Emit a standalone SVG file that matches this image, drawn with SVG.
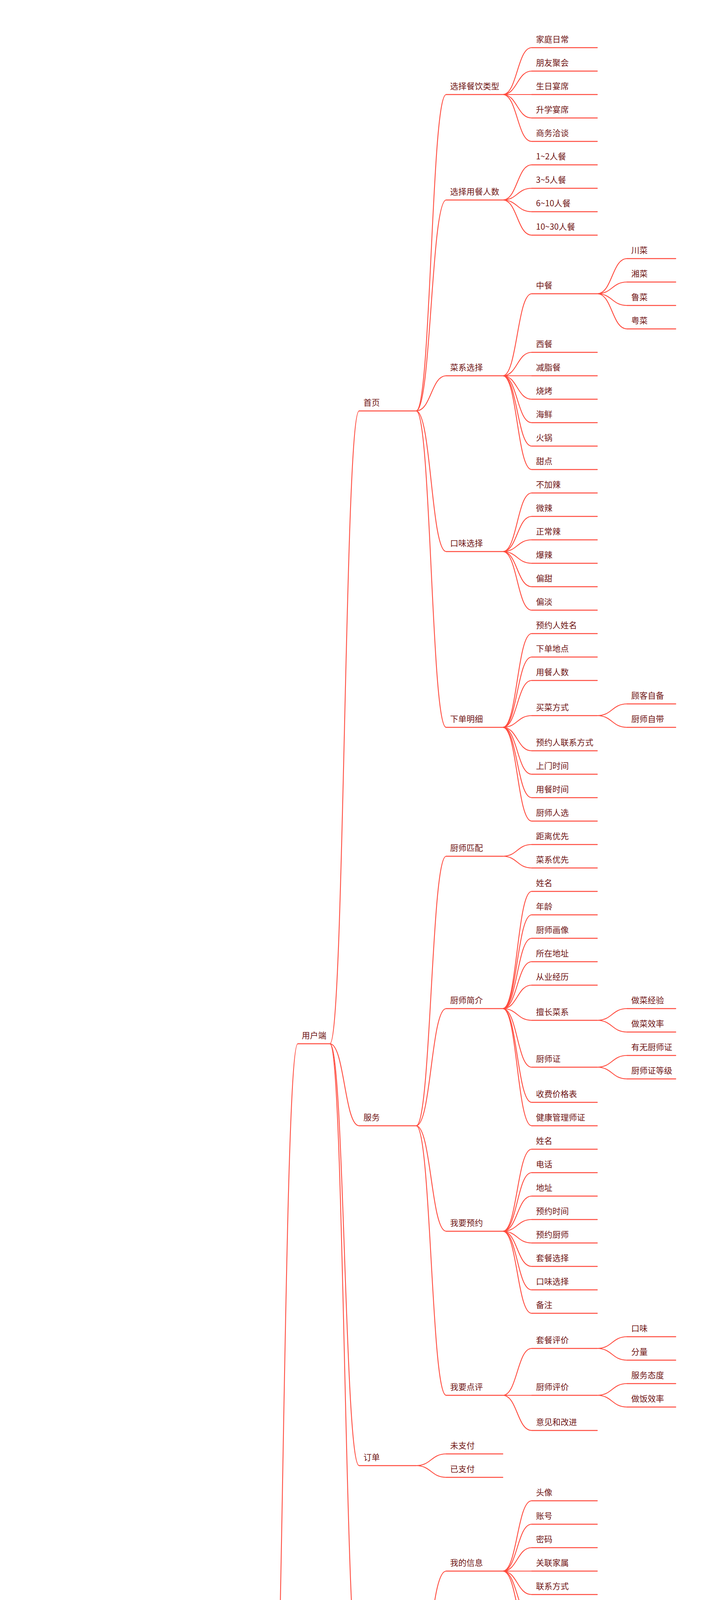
<svg xmlns="http://www.w3.org/2000/svg" width="1806" height="7521" viewBox="0 0 1806 7521">
<style>
.u{stroke:#ff4a3d;stroke-width:2.4;fill:none;stroke-linecap:round}
#links path{stroke:#ff4a3d;stroke-width:2.2;fill:none}
text{font-family:"Noto Sans CJK SC","Noto Sans",sans-serif;font-size:21px;fill:#6f1414}
text.root{font-size:41px;font-weight:bold;fill:#0d0b2b}
text.l1{font-size:27px;fill:#222222}
</style>
<rect width="1806" height="7521" fill="#ffffff"/>
<g id="links">
<path d="M372 4847H523"/>
<path d="M686 4847C724.5 4847 724.5 2672 763 2672"/>
<path d="M686 4847C724.5 4847 724.5 5672 763 5672"/>
<path d="M686 4847C724.5 4847 724.5 7022 763 7022"/>
<path d="M845 2672C882.5 2672 882.5 1052 920 1052"/>
<path d="M845 2672C882.5 2672 882.5 2882 920 2882"/>
<path d="M845 2672C882.5 2672 882.5 3752 920 3752"/>
<path d="M845 2672C882.5 2672 882.5 4292 920 4292"/>
<path d="M845 5672C882.5 5672 882.5 4922 920 4922"/>
<path d="M845 5672C882.5 5672 882.5 5342 920 5342"/>
<path d="M845 5672C882.5 5672 882.5 5567 920 5567"/>
<path d="M845 5672C882.5 5672 882.5 6047 920 6047"/>
<path d="M845 5672C882.5 5672 882.5 6422 920 6422"/>
<path d="M845 7022C882.5 7022 882.5 6632 920 6632"/>
<path d="M845 7022C882.5 7022 882.5 6872 920 6872"/>
<path d="M845 7022C882.5 7022 882.5 7082 920 7082"/>
<path d="M845 7022C882.5 7022 882.5 7262 920 7262"/>
<path d="M845 7022C882.5 7022 882.5 7412 920 7412"/>
<path d="M1066 1052C1104.5 1052 1104.5 242 1143 242"/>
<path d="M1066 1052C1104.5 1052 1104.5 512 1143 512"/>
<path d="M1066 1052C1104.5 1052 1104.5 962 1143 962"/>
<path d="M1066 1052C1104.5 1052 1104.5 1412 1143 1412"/>
<path d="M1066 1052C1104.5 1052 1104.5 1862 1143 1862"/>
<path d="M1066 2882C1104.5 2882 1104.5 2192 1143 2192"/>
<path d="M1066 2882C1104.5 2882 1104.5 2582 1143 2582"/>
<path d="M1066 2882C1104.5 2882 1104.5 3152 1143 3152"/>
<path d="M1066 2882C1104.5 2882 1104.5 3572 1143 3572"/>
<path d="M1066 3752C1104.5 3752 1104.5 3722 1143 3722"/>
<path d="M1066 3752C1104.5 3752 1104.5 3782 1143 3782"/>
<path d="M1066 4292C1104.5 4292 1104.5 4022 1143 4022"/>
<path d="M1066 4292C1104.5 4292 1104.5 4292 1143 4292"/>
<path d="M1066 4292C1104.5 4292 1104.5 4442 1143 4442"/>
<path d="M1066 4292C1104.5 4292 1104.5 4562 1143 4562"/>
<path d="M1066 4922C1104.5 4922 1104.5 4622 1143 4622"/>
<path d="M1066 4922C1104.5 4922 1104.5 4682 1143 4682"/>
<path d="M1066 4922C1104.5 4922 1104.5 4742 1143 4742"/>
<path d="M1066 4922C1104.5 4922 1104.5 4802 1143 4802"/>
<path d="M1066 4922C1104.5 4922 1104.5 4862 1143 4862"/>
<path d="M1066 4922C1104.5 4922 1104.5 4922 1143 4922"/>
<path d="M1066 4922C1104.5 4922 1104.5 4982 1143 4982"/>
<path d="M1066 4922C1104.5 4922 1104.5 5042 1143 5042"/>
<path d="M1066 4922C1104.5 4922 1104.5 5102 1143 5102"/>
<path d="M1066 4922C1104.5 4922 1104.5 5162 1143 5162"/>
<path d="M1066 4922C1104.5 4922 1104.5 5222 1143 5222"/>
<path d="M1066 5342C1104.5 5342 1104.5 5282 1143 5282"/>
<path d="M1066 5342C1104.5 5342 1104.5 5342 1143 5342"/>
<path d="M1066 5342C1104.5 5342 1104.5 5402 1143 5402"/>
<path d="M1066 5567C1104.5 5567 1104.5 5462 1143 5462"/>
<path d="M1066 5567C1104.5 5567 1104.5 5522 1143 5522"/>
<path d="M1066 5567C1104.5 5567 1104.5 5672 1143 5672"/>
<path d="M1066 6047C1104.5 6047 1104.5 5912 1143 5912"/>
<path d="M1066 6047C1104.5 6047 1104.5 6182 1143 6182"/>
<path d="M1066 6422C1104.5 6422 1104.5 6362 1143 6362"/>
<path d="M1066 6422C1104.5 6422 1104.5 6422 1143 6422"/>
<path d="M1066 6422C1104.5 6422 1104.5 6482 1143 6482"/>
<path d="M1066 6632C1104.5 6632 1104.5 6542 1143 6542"/>
<path d="M1066 6632C1104.5 6632 1104.5 6602 1143 6602"/>
<path d="M1066 6632C1104.5 6632 1104.5 6662 1143 6662"/>
<path d="M1066 6632C1104.5 6632 1104.5 6722 1143 6722"/>
<path d="M1066 6872C1104.5 6872 1104.5 6782 1143 6782"/>
<path d="M1066 6872C1104.5 6872 1104.5 6842 1143 6842"/>
<path d="M1066 6872C1104.5 6872 1104.5 6902 1143 6902"/>
<path d="M1066 6872C1104.5 6872 1104.5 6962 1143 6962"/>
<path d="M1066 7082C1104.5 7082 1104.5 7022 1143 7022"/>
<path d="M1066 7082C1104.5 7082 1104.5 7082 1143 7082"/>
<path d="M1066 7082C1104.5 7082 1104.5 7142 1143 7142"/>
<path d="M1066 7262C1104.5 7262 1104.5 7202 1143 7202"/>
<path d="M1066 7262C1104.5 7262 1104.5 7262 1143 7262"/>
<path d="M1066 7262C1104.5 7262 1104.5 7322 1143 7322"/>
<path d="M1066 7412C1104.5 7412 1104.5 7382 1143 7382"/>
<path d="M1066 7412C1104.5 7412 1104.5 7442 1143 7442"/>
<path d="M1288 242C1325 242 1325 122 1362 122"/>
<path d="M1288 242C1325 242 1325 182 1362 182"/>
<path d="M1288 242C1325 242 1325 242 1362 242"/>
<path d="M1288 242C1325 242 1325 302 1362 302"/>
<path d="M1288 242C1325 242 1325 362 1362 362"/>
<path d="M1288 512C1325 512 1325 422 1362 422"/>
<path d="M1288 512C1325 512 1325 482 1362 482"/>
<path d="M1288 512C1325 512 1325 542 1362 542"/>
<path d="M1288 512C1325 512 1325 602 1362 602"/>
<path d="M1288 962C1325 962 1325 752 1362 752"/>
<path d="M1288 962C1325 962 1325 902 1362 902"/>
<path d="M1288 962C1325 962 1325 962 1362 962"/>
<path d="M1288 962C1325 962 1325 1022 1362 1022"/>
<path d="M1288 962C1325 962 1325 1082 1362 1082"/>
<path d="M1288 962C1325 962 1325 1142 1362 1142"/>
<path d="M1288 962C1325 962 1325 1202 1362 1202"/>
<path d="M1288 1412C1325 1412 1325 1262 1362 1262"/>
<path d="M1288 1412C1325 1412 1325 1322 1362 1322"/>
<path d="M1288 1412C1325 1412 1325 1382 1362 1382"/>
<path d="M1288 1412C1325 1412 1325 1442 1362 1442"/>
<path d="M1288 1412C1325 1412 1325 1502 1362 1502"/>
<path d="M1288 1412C1325 1412 1325 1562 1362 1562"/>
<path d="M1288 1862C1325 1862 1325 1622 1362 1622"/>
<path d="M1288 1862C1325 1862 1325 1682 1362 1682"/>
<path d="M1288 1862C1325 1862 1325 1742 1362 1742"/>
<path d="M1288 1862C1325 1862 1325 1832 1362 1832"/>
<path d="M1288 1862C1325 1862 1325 1922 1362 1922"/>
<path d="M1288 1862C1325 1862 1325 1982 1362 1982"/>
<path d="M1288 1862C1325 1862 1325 2042 1362 2042"/>
<path d="M1288 1862C1325 1862 1325 2102 1362 2102"/>
<path d="M1288 2192C1325 2192 1325 2162 1362 2162"/>
<path d="M1288 2192C1325 2192 1325 2222 1362 2222"/>
<path d="M1288 2582C1325 2582 1325 2282 1362 2282"/>
<path d="M1288 2582C1325 2582 1325 2342 1362 2342"/>
<path d="M1288 2582C1325 2582 1325 2402 1362 2402"/>
<path d="M1288 2582C1325 2582 1325 2462 1362 2462"/>
<path d="M1288 2582C1325 2582 1325 2522 1362 2522"/>
<path d="M1288 2582C1325 2582 1325 2612 1362 2612"/>
<path d="M1288 2582C1325 2582 1325 2732 1362 2732"/>
<path d="M1288 2582C1325 2582 1325 2822 1362 2822"/>
<path d="M1288 2582C1325 2582 1325 2882 1362 2882"/>
<path d="M1288 3152C1325 3152 1325 2942 1362 2942"/>
<path d="M1288 3152C1325 3152 1325 3002 1362 3002"/>
<path d="M1288 3152C1325 3152 1325 3062 1362 3062"/>
<path d="M1288 3152C1325 3152 1325 3122 1362 3122"/>
<path d="M1288 3152C1325 3152 1325 3182 1362 3182"/>
<path d="M1288 3152C1325 3152 1325 3242 1362 3242"/>
<path d="M1288 3152C1325 3152 1325 3302 1362 3302"/>
<path d="M1288 3152C1325 3152 1325 3362 1362 3362"/>
<path d="M1288 3572C1325 3572 1325 3452 1362 3452"/>
<path d="M1288 3572C1325 3572 1325 3572 1362 3572"/>
<path d="M1288 3572C1325 3572 1325 3662 1362 3662"/>
<path d="M1288 4022C1325 4022 1325 3842 1362 3842"/>
<path d="M1288 4022C1325 4022 1325 3902 1362 3902"/>
<path d="M1288 4022C1325 4022 1325 3962 1362 3962"/>
<path d="M1288 4022C1325 4022 1325 4022 1362 4022"/>
<path d="M1288 4022C1325 4022 1325 4082 1362 4082"/>
<path d="M1288 4022C1325 4022 1325 4142 1362 4142"/>
<path d="M1288 4022C1325 4022 1325 4202 1362 4202"/>
<path d="M1288 4292C1325 4292 1325 4262 1362 4262"/>
<path d="M1288 4292C1325 4292 1325 4322 1362 4322"/>
<path d="M1288 4442C1325 4442 1325 4382 1362 4382"/>
<path d="M1288 4442C1325 4442 1325 4442 1362 4442"/>
<path d="M1288 4442C1325 4442 1325 4502 1362 4502"/>
<path d="M1288 4562C1325 4562 1325 4562 1362 4562"/>
<path d="M1288 5672C1325 5672 1325 5582 1362 5582"/>
<path d="M1288 5672C1325 5672 1325 5642 1362 5642"/>
<path d="M1288 5672C1325 5672 1325 5702 1362 5702"/>
<path d="M1288 5672C1325 5672 1325 5762 1362 5762"/>
<path d="M1288 5912C1325 5912 1325 5822 1362 5822"/>
<path d="M1288 5912C1325 5912 1325 5882 1362 5882"/>
<path d="M1288 5912C1325 5912 1325 5942 1362 5942"/>
<path d="M1288 5912C1325 5912 1325 6002 1362 6002"/>
<path d="M1288 6182C1325 6182 1325 6062 1362 6062"/>
<path d="M1288 6182C1325 6182 1325 6122 1362 6122"/>
<path d="M1288 6182C1325 6182 1325 6182 1362 6182"/>
<path d="M1288 6182C1325 6182 1325 6242 1362 6242"/>
<path d="M1288 6182C1325 6182 1325 6302 1362 6302"/>
<path d="M1530 752C1568 752 1568 662 1606 662"/>
<path d="M1530 752C1568 752 1568 722 1606 722"/>
<path d="M1530 752C1568 752 1568 782 1606 782"/>
<path d="M1530 752C1568 752 1568 842 1606 842"/>
<path d="M1530 1832C1568 1832 1568 1802 1606 1802"/>
<path d="M1530 1832C1568 1832 1568 1862 1606 1862"/>
<path d="M1530 2612C1568 2612 1568 2582 1606 2582"/>
<path d="M1530 2612C1568 2612 1568 2642 1606 2642"/>
<path d="M1530 2732C1568 2732 1568 2702 1606 2702"/>
<path d="M1530 2732C1568 2732 1568 2762 1606 2762"/>
<path d="M1530 3452C1568 3452 1568 3422 1606 3422"/>
<path d="M1530 3452C1568 3452 1568 3482 1606 3482"/>
<path d="M1530 3572C1568 3572 1568 3542 1606 3542"/>
<path d="M1530 3572C1568 3572 1568 3602 1606 3602"/>
</g>
<g id="root"><text class="root" x="120" y="4865">产品和服务</text></g>
<g id="n-content"><path class="u" d="M523 4847H686"/><text class="l1" x="549" y="4826">产品内容</text></g>
<g id="n-user"><path class="u" d="M763 2672H845"/><text x="773" y="2658">用户端</text></g>
<g id="n-chef"><path class="u" d="M763 5672H845"/><text x="773" y="5658">厨师端</text></g>
<g id="n-admin"><path class="u" d="M763 7022H845"/><text x="773" y="7008">管理端</text></g>
<g id="u-home"><path class="u" d="M920 1052H1066"/><text x="931" y="1038">首页</text></g>
<g id="u-svc"><path class="u" d="M920 2882H1066"/><text x="931" y="2868">服务</text></g>
<g id="u-order"><path class="u" d="M920 3752H1066"/><text x="931" y="3738">订单</text></g>
<g id="u-me"><path class="u" d="M920 4292H1066"/><text x="931" y="4278">个人中心</text></g>
<g id="c-apply"><path class="u" d="M920 4922H1066"/><text x="931" y="4908">入驻申请</text></g>
<g id="c-home"><path class="u" d="M920 5342H1066"/><text x="931" y="5328">首页</text></g>
<g id="c-pool"><path class="u" d="M920 5567H1066"/><text x="931" y="5553">接单池</text></g>
<g id="c-income"><path class="u" d="M920 6047H1066"/><text x="931" y="6033">收益</text></g>
<g id="c-set"><path class="u" d="M920 6422H1066"/><text x="931" y="6408">设置中心</text></g>
<g id="a-chef"><path class="u" d="M920 6632H1066"/><text x="931" y="6618">厨师管理</text></g>
<g id="a-stock"><path class="u" d="M920 6872H1066"/><text x="931" y="6858">食材库存管理</text></g>
<g id="a-order"><path class="u" d="M920 7082H1066"/><text x="931" y="7068">订单管理</text></g>
<g id="a-cust"><path class="u" d="M920 7262H1066"/><text x="931" y="7248">顾客信息</text></g>
<g id="a-mall"><path class="u" d="M920 7412H1066"/><text x="931" y="7398">食材商城</text></g>
<g id="h1"><path class="u" d="M1143 242H1288"/><text x="1153" y="228">选择餐饮类型</text></g>
<g id="h2"><path class="u" d="M1143 512H1288"/><text x="1153" y="498">选择用餐人数</text></g>
<g id="h3"><path class="u" d="M1143 962H1288"/><text x="1153" y="948">菜系选择</text></g>
<g id="h4"><path class="u" d="M1143 1412H1288"/><text x="1153" y="1398">口味选择</text></g>
<g id="h5"><path class="u" d="M1143 1862H1288"/><text x="1153" y="1848">下单明细</text></g>
<g id="s1"><path class="u" d="M1143 2192H1288"/><text x="1153" y="2178">厨师匹配</text></g>
<g id="s2"><path class="u" d="M1143 2582H1288"/><text x="1153" y="2568">厨师简介</text></g>
<g id="s3"><path class="u" d="M1143 3152H1288"/><text x="1153" y="3138">我要预约</text></g>
<g id="s4"><path class="u" d="M1143 3572H1288"/><text x="1153" y="3558">我要点评</text></g>
<g id="o1"><path class="u" d="M1143 3722H1288"/><text x="1153" y="3708">未支付</text></g>
<g id="o2"><path class="u" d="M1143 3782H1288"/><text x="1153" y="3768">已支付</text></g>
<g id="m1"><path class="u" d="M1143 4022H1288"/><text x="1153" y="4008">我的信息</text></g>
<g id="m2"><path class="u" d="M1143 4292H1288"/><text x="1153" y="4278">我的收藏</text></g>
<g id="m3"><path class="u" d="M1143 4442H1288"/><text x="1153" y="4428">我的券包</text></g>
<g id="m4"><path class="u" d="M1143 4562H1288"/><text x="1153" y="4548">我要投诉</text></g>
<g id="ap1"><path class="u" d="M1143 4622H1288"/><text x="1153" y="4608">姓名</text></g>
<g id="ap2"><path class="u" d="M1143 4682H1288"/><text x="1153" y="4668">画像</text></g>
<g id="ap3"><path class="u" d="M1143 4742H1288"/><text x="1153" y="4728">联系方式</text></g>
<g id="ap4"><path class="u" d="M1143 4802H1288"/><text x="1153" y="4788">居住地址</text></g>
<g id="ap5"><path class="u" d="M1143 4862H1288"/><text x="1153" y="4848">擅长菜系</text></g>
<g id="ap6"><path class="u" d="M1143 4922H1288"/><text x="1153" y="4908">服务单价</text></g>
<g id="ap7"><path class="u" d="M1143 4982H1288"/><text x="1153" y="4968">工作年龄</text></g>
<g id="ap8"><path class="u" d="M1143 5042H1288"/><text x="1153" y="5028">身份证</text></g>
<g id="ap9"><path class="u" d="M1143 5102H1288"/><text x="1153" y="5088">厨师证</text></g>
<g id="ap10"><path class="u" d="M1143 5162H1288"/><text x="1153" y="5148">健康证</text></g>
<g id="ap11"><path class="u" d="M1143 5222H1288"/><text x="1153" y="5208">其他信息</text></g>
<g id="ch1"><path class="u" d="M1143 5282H1288"/><text x="1153" y="5268">个人信息</text></g>
<g id="ch2"><path class="u" d="M1143 5342H1288"/><text x="1153" y="5328">擅长菜系</text></g>
<g id="ch3"><path class="u" d="M1143 5402H1288"/><text x="1153" y="5388">我的订单</text></g>
<g id="cp1"><path class="u" d="M1143 5462H1288"/><text x="1153" y="5448">距离优先</text></g>
<g id="cp2"><path class="u" d="M1143 5522H1288"/><text x="1153" y="5508">时间优先</text></g>
<g id="cp3"><path class="u" d="M1143 5672H1288"/><text x="1153" y="5658">抢单</text></g>
<g id="ci1"><path class="u" d="M1143 5912H1288"/><text x="1153" y="5898">我的钱包</text></g>
<g id="ci2"><path class="u" d="M1143 6182H1288"/><text x="1153" y="6168">收益细明</text></g>
<g id="cs1"><path class="u" d="M1143 6362H1288"/><text x="1153" y="6348">上班时间</text></g>
<g id="cs2"><path class="u" d="M1143 6422H1288"/><text x="1153" y="6408">接单时间</text></g>
<g id="cs3"><path class="u" d="M1143 6482H1288"/><text x="1153" y="6468">休息时间</text></g>
<g id="ac1"><path class="u" d="M1143 6542H1288"/><text x="1153" y="6528">厨师状态</text></g>
<g id="ac2"><path class="u" d="M1143 6602H1288"/><text x="1153" y="6588">厨师评分</text></g>
<g id="ac3"><path class="u" d="M1143 6662H1288"/><text x="1153" y="6648">厨师信用</text></g>
<g id="ac4"><path class="u" d="M1143 6722H1288"/><text x="1153" y="6708">厨师简介</text></g>
<g id="as1"><path class="u" d="M1143 6782H1288"/><text x="1153" y="6768">食材分类</text></g>
<g id="as2"><path class="u" d="M1143 6842H1288"/><text x="1153" y="6828">数量预警</text></g>
<g id="as3"><path class="u" d="M1143 6902H1288"/><text x="1153" y="6888">保存日期</text></g>
<g id="as4"><path class="u" d="M1143 6962H1288"/><text x="1153" y="6948">消耗速度</text></g>
<g id="ao1"><path class="u" d="M1143 7022H1288"/><text x="1153" y="7008">订单号</text></g>
<g id="ao2"><path class="u" d="M1143 7082H1288"/><text x="1153" y="7068">订单明细</text></g>
<g id="ao3"><path class="u" d="M1143 7142H1288"/><text x="1153" y="7128">平台抽成</text></g>
<g id="au1"><path class="u" d="M1143 7202H1288"/><text x="1153" y="7188">顾客信用</text></g>
<g id="au2"><path class="u" d="M1143 7262H1288"/><text x="1153" y="7248">顾客信息</text></g>
<g id="au3"><path class="u" d="M1143 7322H1288"/><text x="1153" y="7308">预约厨师</text></g>
<g id="am1"><path class="u" d="M1143 7382H1288"/><text x="1153" y="7368">食材分类</text></g>
<g id="am2"><path class="u" d="M1143 7442H1288"/><text x="1153" y="7428">食材单价</text></g>
<g id="h1a"><path class="u" d="M1362 122H1530"/><text x="1373" y="108">家庭日常</text></g>
<g id="h1b"><path class="u" d="M1362 182H1530"/><text x="1373" y="168">朋友聚会</text></g>
<g id="h1c"><path class="u" d="M1362 242H1530"/><text x="1373" y="228">生日宴席</text></g>
<g id="h1d"><path class="u" d="M1362 302H1530"/><text x="1373" y="288">升学宴席</text></g>
<g id="h1e"><path class="u" d="M1362 362H1530"/><text x="1373" y="348">商务洽谈</text></g>
<g id="h2a"><path class="u" d="M1362 422H1530"/><text x="1373" y="408">1~2人餐</text></g>
<g id="h2b"><path class="u" d="M1362 482H1530"/><text x="1373" y="468">3~5人餐</text></g>
<g id="h2c"><path class="u" d="M1362 542H1530"/><text x="1373" y="528">6~10人餐</text></g>
<g id="h2d"><path class="u" d="M1362 602H1530"/><text x="1373" y="588">10~30人餐</text></g>
<g id="h3a"><path class="u" d="M1362 752H1530"/><text x="1373" y="738">中餐</text></g>
<g id="h3b"><path class="u" d="M1362 902H1530"/><text x="1373" y="888">西餐</text></g>
<g id="h3c"><path class="u" d="M1362 962H1530"/><text x="1373" y="948">减脂餐</text></g>
<g id="h3d"><path class="u" d="M1362 1022H1530"/><text x="1373" y="1008">烧烤</text></g>
<g id="h3e"><path class="u" d="M1362 1082H1530"/><text x="1373" y="1068">海鲜</text></g>
<g id="h3f"><path class="u" d="M1362 1142H1530"/><text x="1373" y="1128">火锅</text></g>
<g id="h3g"><path class="u" d="M1362 1202H1530"/><text x="1373" y="1188">甜点</text></g>
<g id="h4a"><path class="u" d="M1362 1262H1530"/><text x="1373" y="1248">不加辣</text></g>
<g id="h4b"><path class="u" d="M1362 1322H1530"/><text x="1373" y="1308">微辣</text></g>
<g id="h4c"><path class="u" d="M1362 1382H1530"/><text x="1373" y="1368">正常辣</text></g>
<g id="h4d"><path class="u" d="M1362 1442H1530"/><text x="1373" y="1428">爆辣</text></g>
<g id="h4e"><path class="u" d="M1362 1502H1530"/><text x="1373" y="1488">偏甜</text></g>
<g id="h4f"><path class="u" d="M1362 1562H1530"/><text x="1373" y="1548">偏淡</text></g>
<g id="h5a"><path class="u" d="M1362 1622H1530"/><text x="1373" y="1608">预约人姓名</text></g>
<g id="h5b"><path class="u" d="M1362 1682H1530"/><text x="1373" y="1668">下单地点</text></g>
<g id="h5c"><path class="u" d="M1362 1742H1530"/><text x="1373" y="1728">用餐人数</text></g>
<g id="h5d"><path class="u" d="M1362 1832H1530"/><text x="1373" y="1818">买菜方式</text></g>
<g id="h5e"><path class="u" d="M1362 1922H1530"/><text x="1373" y="1908">预约人联系方式</text></g>
<g id="h5f"><path class="u" d="M1362 1982H1530"/><text x="1373" y="1968">上门时间</text></g>
<g id="h5g"><path class="u" d="M1362 2042H1530"/><text x="1373" y="2028">用餐时间</text></g>
<g id="h5h"><path class="u" d="M1362 2102H1530"/><text x="1373" y="2088">厨师人选</text></g>
<g id="s1a"><path class="u" d="M1362 2162H1530"/><text x="1373" y="2148">距离优先</text></g>
<g id="s1b"><path class="u" d="M1362 2222H1530"/><text x="1373" y="2208">菜系优先</text></g>
<g id="s2a"><path class="u" d="M1362 2282H1530"/><text x="1373" y="2268">姓名</text></g>
<g id="s2b"><path class="u" d="M1362 2342H1530"/><text x="1373" y="2328">年龄</text></g>
<g id="s2c"><path class="u" d="M1362 2402H1530"/><text x="1373" y="2388">厨师画像</text></g>
<g id="s2d"><path class="u" d="M1362 2462H1530"/><text x="1373" y="2448">所在地址</text></g>
<g id="s2e"><path class="u" d="M1362 2522H1530"/><text x="1373" y="2508">从业经历</text></g>
<g id="s2f"><path class="u" d="M1362 2612H1530"/><text x="1373" y="2598">擅长菜系</text></g>
<g id="s2g"><path class="u" d="M1362 2732H1530"/><text x="1373" y="2718">厨师证</text></g>
<g id="s2h"><path class="u" d="M1362 2822H1530"/><text x="1373" y="2808">收费价格表</text></g>
<g id="s2i"><path class="u" d="M1362 2882H1530"/><text x="1373" y="2868">健康管理师证</text></g>
<g id="s3a"><path class="u" d="M1362 2942H1530"/><text x="1373" y="2928">姓名</text></g>
<g id="s3b"><path class="u" d="M1362 3002H1530"/><text x="1373" y="2988">电话</text></g>
<g id="s3c"><path class="u" d="M1362 3062H1530"/><text x="1373" y="3048">地址</text></g>
<g id="s3d"><path class="u" d="M1362 3122H1530"/><text x="1373" y="3108">预约时间</text></g>
<g id="s3e"><path class="u" d="M1362 3182H1530"/><text x="1373" y="3168">预约厨师</text></g>
<g id="s3f"><path class="u" d="M1362 3242H1530"/><text x="1373" y="3228">套餐选择</text></g>
<g id="s3g"><path class="u" d="M1362 3302H1530"/><text x="1373" y="3288">口味选择</text></g>
<g id="s3h"><path class="u" d="M1362 3362H1530"/><text x="1373" y="3348">备注</text></g>
<g id="s4a"><path class="u" d="M1362 3452H1530"/><text x="1373" y="3438">套餐评价</text></g>
<g id="s4b"><path class="u" d="M1362 3572H1530"/><text x="1373" y="3558">厨师评价</text></g>
<g id="s4c"><path class="u" d="M1362 3662H1530"/><text x="1373" y="3648">意见和改进</text></g>
<g id="m1a"><path class="u" d="M1362 3842H1530"/><text x="1373" y="3828">头像</text></g>
<g id="m1b"><path class="u" d="M1362 3902H1530"/><text x="1373" y="3888">账号</text></g>
<g id="m1c"><path class="u" d="M1362 3962H1530"/><text x="1373" y="3948">密码</text></g>
<g id="m1d"><path class="u" d="M1362 4022H1530"/><text x="1373" y="4008">关联家属</text></g>
<g id="m1e"><path class="u" d="M1362 4082H1530"/><text x="1373" y="4068">联系方式</text></g>
<g id="m1f"><path class="u" d="M1362 4142H1530"/><text x="1373" y="4128">地址管理</text></g>
<g id="m1g"><path class="u" d="M1362 4202H1530"/><text x="1373" y="4188">个人简介</text></g>
<g id="m2a"><path class="u" d="M1362 4262H1530"/><text x="1373" y="4248">套餐收藏</text></g>
<g id="m2b"><path class="u" d="M1362 4322H1530"/><text x="1373" y="4308">厨师收藏</text></g>
<g id="m3a"><path class="u" d="M1362 4382H1530"/><text x="1373" y="4368">优惠券</text></g>
<g id="m3b"><path class="u" d="M1362 4442H1530"/><text x="1373" y="4428">折扣券</text></g>
<g id="m3c"><path class="u" d="M1362 4502H1530"/><text x="1373" y="4488">满减券</text></g>
<g id="m4a"><path class="u" d="M1362 4562H1530"/><text x="1373" y="4548">投诉电话</text></g>
<g id="cp3a"><path class="u" d="M1362 5582H1530"/><text x="1373" y="5568">顾客地址</text></g>
<g id="cp3b"><path class="u" d="M1362 5642H1530"/><text x="1373" y="5628">服务时间</text></g>
<g id="cp3c"><path class="u" d="M1362 5702H1530"/><text x="1373" y="5688">用餐人数</text></g>
<g id="cp3d"><path class="u" d="M1362 5762H1530"/><text x="1373" y="5748">菜系要求</text></g>
<g id="ci1a"><path class="u" d="M1362 5822H1530"/><text x="1373" y="5808">累计收益</text></g>
<g id="ci1b"><path class="u" d="M1362 5882H1530"/><text x="1373" y="5868">本月收益</text></g>
<g id="ci1c"><path class="u" d="M1362 5942H1530"/><text x="1373" y="5928">今日收益</text></g>
<g id="ci1d"><path class="u" d="M1362 6002H1530"/><text x="1373" y="5988">我的提现</text></g>
<g id="ci2a"><path class="u" d="M1362 6062H1530"/><text x="1373" y="6048">订单编号</text></g>
<g id="ci2b"><path class="u" d="M1362 6122H1530"/><text x="1373" y="6108">下单时间</text></g>
<g id="ci2c"><path class="u" d="M1362 6182H1530"/><text x="1373" y="6168">菜系</text></g>
<g id="ci2d"><path class="u" d="M1362 6242H1530"/><text x="1373" y="6228">用餐人数</text></g>
<g id="ci2e"><path class="u" d="M1362 6302H1530"/><text x="1373" y="6288">收益金额</text></g>
<g id="zc1"><path class="u" d="M1606 662H1731"/><text x="1617" y="648">川菜</text></g>
<g id="zc2"><path class="u" d="M1606 722H1731"/><text x="1617" y="708">湘菜</text></g>
<g id="zc3"><path class="u" d="M1606 782H1731"/><text x="1617" y="768">鲁菜</text></g>
<g id="zc4"><path class="u" d="M1606 842H1731"/><text x="1617" y="828">粤菜</text></g>
<g id="mc1"><path class="u" d="M1606 1802H1731"/><text x="1617" y="1788">顾客自备</text></g>
<g id="mc2"><path class="u" d="M1606 1862H1731"/><text x="1617" y="1848">厨师自带</text></g>
<g id="sc1"><path class="u" d="M1606 2582H1731"/><text x="1617" y="2568">做菜经验</text></g>
<g id="sc2"><path class="u" d="M1606 2642H1731"/><text x="1617" y="2628">做菜效率</text></g>
<g id="cz1"><path class="u" d="M1606 2702H1731"/><text x="1617" y="2688">有无厨师证</text></g>
<g id="cz2"><path class="u" d="M1606 2762H1731"/><text x="1617" y="2748">厨师证等级</text></g>
<g id="tp1"><path class="u" d="M1606 3422H1731"/><text x="1617" y="3408">口味</text></g>
<g id="tp2"><path class="u" d="M1606 3482H1731"/><text x="1617" y="3468">分量</text></g>
<g id="cp1a"><path class="u" d="M1606 3542H1731"/><text x="1617" y="3528">服务态度</text></g>
<g id="cp1b"><path class="u" d="M1606 3602H1731"/><text x="1617" y="3588">做饭效率</text></g>
</svg>
